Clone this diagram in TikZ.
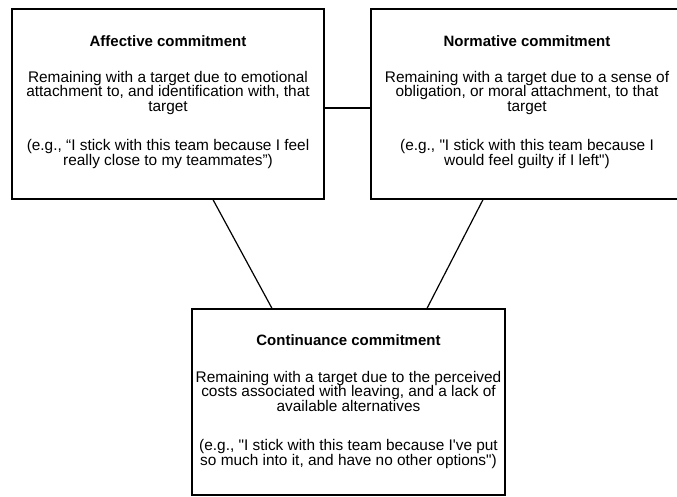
\documentclass[tikz,border=0pt]{standalone}
\usepackage{fontspec}
\newfontfamily\plainsans{Liberation Sans}
\usetikzlibrary{calc}

\begin{document}
\begin{tikzpicture}[x=1pt, y=-1pt, every node/.style={font=\plainsans\fontsize{15.4}{14.5}\selectfont}, box/.style={draw, line width=1.3pt, minimum width=312pt, minimum height=190pt, inner sep=0pt}, txt/.style={align=center, inner sep=0pt, anchor=base}, head/.style={txt, font=\plainsans\fontsize{15}{14.5}\selectfont\bfseries}, link/.style={line width=1.2pt}]
	\useasboundingbox (0,0) rectangle (677,496);
	\clip (0,0) rectangle (677,496);
	\node[box] (affbox) at (168,104) {};
	\node[box] (normbox) at (527,104) {};
	\node[box, minimum width=313pt, minimum height=186pt] (contbox) at (348.5,402) {};
	% base anchor sits on the last line
	\node[head] (afftitle) at (168,46) {Affective commitment};
	\node[txt] (affdef) at (168,111) {Remaining with a target due to emotional\\attachment to, and identification with, that\\target};
	\node[txt] (affex) at (168,165) {(e.g., “I stick with this team because I feel\\really close to my teammates”)};
	\node[head] (normtitle) at (527,46) {Normative commitment};
	\node[txt] (normdef) at (527,111) {Remaining with a target due to a sense of\\obligation, or moral attachment, to that\\target};
	\node[txt] (normex) at (527,165) {(e.g., "I stick with this team because I\\would feel guilty if I left")};
	\node[head] (conttitle) at (348.5,345) {Continuance commitment};
	\node[txt] (contdef) at (348.5,411) {Remaining with a target due to the perceived\\costs associated with leaving, and a lack of\\available alternatives};
	\node[txt] (contex) at (348.5,465) {(e.g., "I stick with this team because I've put\\so much into it, and have no other options")};
	\draw[link] (affbox.east |- 0,108) -- (normbox.west |- 0,108);
	\draw[link] (affbox.south -| 213,0) -- (contbox.north -| 272,0);
	\draw[link] (normbox.south -| 483,0) -- (contbox.north -| 427,0);
\end{tikzpicture}
\end{document}
